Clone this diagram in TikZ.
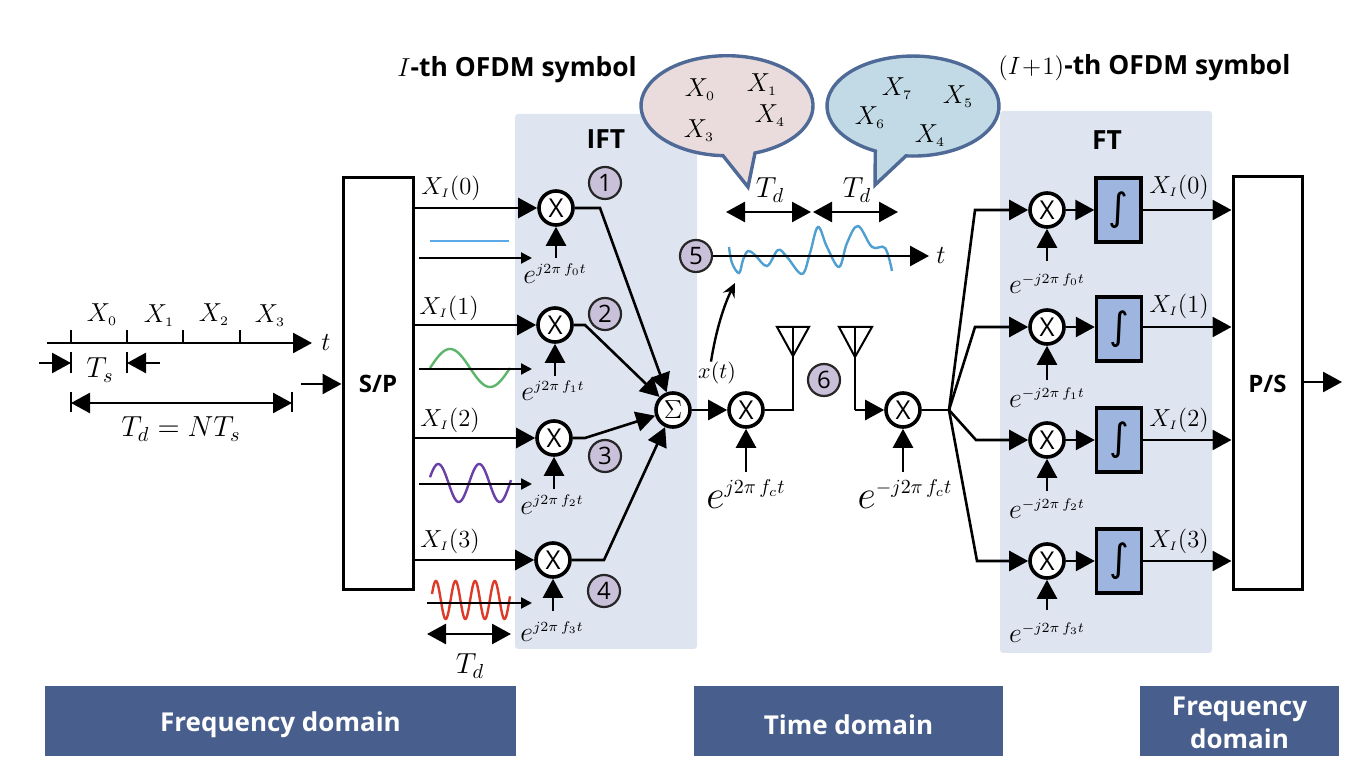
\RequirePackage{fix-cm}
\documentclass[tikz,border=0pt]{standalone}
\usepackage[no-math]{fontspec}
\setmainfont{Open Sans}
\newfontfamily\intfont{DejaVu Sans}
\usetikzlibrary{arrows.meta,calc}
\newcommand{\bigmath}[1]{\fontsize{14.5}{15}\selectfont$#1$}
\newcommand{\fsub}[2]{\hbox{\fontsize{#1}{#1}\selectfont$#2$}}
\newcommand{\lomath}[2]{\fontsize{14}{15}\selectfont$e^{\scriptscriptstyle #1 f_{\fsub{5}{#2}} t}$}
\newcommand{\himath}[1]{\fontsize{20}{21}\selectfont$e^{\scriptscriptstyle #1 f_{\fsub{7}{c}} t}$}
\newcommand{\xsym}[1]{$X_{\scriptscriptstyle #1}$}
\newcommand{\xarg}[1]{\fontsize{12.3}{13}\selectfont$X_{\scriptscriptstyle I}(#1)$}
\tikzset{
  x=0.5pt,y=-0.5pt,
  conn/.style={line width=1.3pt,-{Triangle[length=9.5pt,width=10pt]}},
  dconn/.style={line width=1.3pt,{Triangle[length=9.5pt,width=10pt]}-{Triangle[length=9.5pt,width=10pt]}},
  smallarrow/.style={line width=1.1pt,-{Triangle[length=5.5pt,width=5.5pt]}},
  plain/.style={line width=1.3pt},
  mixer/.style={circle,draw,fill=white,line width=1.8pt,minimum size=17pt,inner sep=0pt,font=\fontsize{13}{14}\selectfont},
  badge/.style={circle,draw=black!85,fill=badgefill,line width=1.1pt,minimum size=16pt,inner sep=0pt,font=\fontsize{12}{13}\selectfont},
  bigbox/.style={draw,fill=white,line width=1.5pt,inner sep=0pt,font=\bfseries\fontsize{12}{13}\selectfont},
  intbox/.style={draw,fill=intfill,line width=1.7pt,minimum width=22.5pt,minimum height=32pt,inner sep=0pt,font=\intfont\fontsize{19}{21}\selectfont},
  panel/.style={fill=panelfill,rounded corners=1.5pt},
  barlabel/.style={text=white,font=\bfseries\fontsize{13}{16.5}\selectfont,inner sep=0pt,align=center},
  head/.style={font=\bfseries\fontsize{13.2}{15}\selectfont,inner sep=0pt},
  bubble/.style={draw=bubbleline,line width=1.7pt,line join=miter},
  mlabel/.style={inner sep=0pt,font=\fontsize{13}{14}\selectfont},
  lolabel/.style={inner sep=0pt},
  wave/.style={line width=1.2pt},
}
\definecolor{panelfill}{HTML}{DFE5F0}
\definecolor{barfill}{HTML}{485E8C}
\definecolor{badgefill}{HTML}{C9C1D9}
\definecolor{intfill}{HTML}{9DB5DF}
\definecolor{bubbleline}{HTML}{4F6A96}
\definecolor{pinkfill}{HTML}{EADCDC}
\definecolor{bluefill}{HTML}{C1DAE5}
\definecolor{wblue}{HTML}{5BA9E8}
\definecolor{wgreen}{HTML}{5CB56A}
\definecolor{wpurple}{HTML}{6A3FA8}
\definecolor{wred}{HTML}{DE3A2A}
\definecolor{wtime}{HTML}{4F9FD0}
\begin{document}
\begin{tikzpicture}
\useasboundingbox (0,0) rectangle (1354,763);
% panels
\fill[panel] (515,114) rectangle (697,649);
\fill[panel] (1000,111) rectangle (1212,653);
% bottom bars
\fill[barfill] (45,686) rectangle (516,756);
\fill[barfill] (694,686) rectangle (1003,756);
\fill[barfill] (1140,686) rectangle (1339,756);
\node[barlabel] (fd1) at (280.5,724.5) {Frequency domain};
\node[barlabel] (td) at (848.5,724.5) {Time domain};
\node[barlabel] (fd2) at (1239.5,723) {Frequency\\domain};
% headings
\node[head,anchor=west] (h1) at (397,70) {\fontsize{13}{14}\selectfont$I$\bfseries\fontsize{13.2}{15}\selectfont-th OFDM symbol};
\node[head,anchor=west] (h2) at (998,68) {\fontsize{12.5}{14}\selectfont$(I\!+\!1)$\bfseries\fontsize{13.2}{15}\selectfont-th OFDM symbol};
\node[head] (ift) at (606,139) {IFT};
\node[head] (ft) at (1107,140) {FT};
% left timeline
\coordinate (ax0) at (47,343);
\coordinate (ax1) at (312,343);
\draw[conn] (ax0) -- (ax1);
\foreach \tx in {71,127,183,240} \draw[plain] (\tx,330) -- (\tx,343);
\node[mlabel] (x0) at (102,315) {\xsym{0}};
\node[mlabel] (x1) at (159,316) {\xsym{1}};
\node[mlabel] (x2) at (214,315) {\xsym{2}};
\node[mlabel] (x3) at (270,316) {\xsym{3}};
\node[mlabel] (taxis) at (326,343) {$t$};
\coordinate (ts0) at (39,363);
\coordinate (ts1) at (71,363);
\coordinate (ts2) at (160,363);
\coordinate (ts3) at (127,363);
\draw[plain] (71,352) -- (71,373);
\draw[plain] (127,352) -- (127,373);
\draw[conn] (ts0) -- (ts1);
\draw[conn] (ts2) -- (ts3);
\node[inner sep=0pt] (tslab) at (100,370) {\bigmath{T_s}};
\draw[plain] (71,392) -- (71,412);
\draw[plain] (292,392) -- (292,412);
\coordinate (td0) at (71,403);
\coordinate (td1) at (292,403);
\draw[dconn] (td0) -- (td1);
\node[inner sep=0pt] (tdeq) at (181,429) {\bigmath{T_d = NT_s}};
% S/P, P/S
\node[bigbox,minimum width=35pt,minimum height=206pt] (sp) at (378,384) {S/P};
\node[bigbox,minimum width=34.5pt,minimum height=206.5pt] (ps) at (1267.5,383.5) {P/S};
\coordinate (inS) at (301,384);
\draw[conn] (inS) -- (sp.west |- inS);
\coordinate (outP) at (1342,382);
\draw[conn] (ps.east |- outP) -- (outP);
% IFT mixers
\node[mixer] (m1) at (556,208) {X};
\node[mixer] (m2) at (555,325) {X};
\node[mixer] (m3) at (554,438) {X};
\node[mixer] (m4) at (553,560) {X};
\node[mixer] (sum) at (673,410) {$\Sigma$};
\foreach \m in {m1,m2,m3,m4} \draw[conn] (sp.east |- \m) -- (\m);
\node[mlabel] (l1) at (451,188) {\xarg{0}};
\node[mlabel] (l2) at (449,308) {\xarg{1}};
\node[mlabel] (l3) at (450,420) {\xarg{2}};
\node[mlabel] (l4) at (450,541) {\xarg{3}};
% IFT LO
\node[lolabel] (e0) at (555,274) {\lomath{j2\pi\,}{0}};
\node[lolabel] (e1) at (553,391) {\lomath{j2\pi\,}{1}};
\node[lolabel] (e2) at (552,505) {\lomath{j2\pi\,}{2}};
\node[lolabel] (e3) at (552,632) {\lomath{j2\pi\,}{3}};
\coordinate (lo0) at (556,258);
\coordinate (lo1) at (555,376);
\coordinate (lo2) at (554,489);
\coordinate (lo3) at (553,611);
\draw[conn] (lo0) -- (m1);
\draw[conn] (lo1) -- (m2);
\draw[conn] (lo2) -- (m3);
\draw[conn] (lo3) -- (m4);
% to sum
\coordinate (b1) at (600,208);
\coordinate (b2) at (585,325);
\coordinate (b3) at (585,438);
\coordinate (b4) at (604,560);
\draw[conn] (m1) -- (b1) -- (sum);
\draw[conn] (m2) -- (b2) -- (sum);
\draw[conn] (m3) -- (b3) -- (sum);
\draw[conn] (m4) -- (b4) -- (sum);
% badges
\node[badge] (n1) at (605,183) {1};
\node[badge] (n2) at (605,314) {2};
\node[badge] (n3) at (605,456) {3};
\node[badge] (n4) at (604,591) {4};
\node[badge] (n5) at (696,256) {5};
\node[badge] (n6) at (824,380) {6};
% carrier waves
\draw[wblue,wave] (430,241) -- (509,241);
\draw[wgreen,wave] plot[domain=430:510,samples=80] (\x,{368-19*sin(4.5*(\x-430))});
\draw[wpurple,wave] plot[domain=430:511,samples=100] (\x,{483-19*sin(8.78*(\x-428))});
\draw[wred,wave] plot[domain=432:510,samples=160] (\x,{600-19*sin(18.37*(\x-431))});
\coordinate (w0a) at (419,258); \coordinate (w0b) at (532,258);
\coordinate (w1a) at (419,369); \coordinate (w1b) at (532,369);
\coordinate (w2a) at (419,484); \coordinate (w2b) at (532,484);
\coordinate (w3a) at (427,603); \coordinate (w3b) at (532,603);
\draw[smallarrow] (w0a) -- (w0b);
\draw[smallarrow] (w1a) -- (w1b);
\draw[smallarrow] (w2a) -- (w2b);
\draw[smallarrow] (w3a) -- (w3b);
\coordinate (wd0) at (427,634); \coordinate (wd1) at (511,634);
\draw[dconn] (wd0) -- (wd1);
\node[inner sep=0pt] (wdl) at (470,666) {\bigmath{T_d}};
% bubbles
\draw[bubble,fill=pinkfill] (755,153) arc[start angle=71,end angle=-267.3,x radius=86,y radius=50] -- (748,187) -- cycle;
\draw[bubble,fill=bluefill] (875.3,151) arc[start angle=116,end angle=454.7,x radius=86,y radius=50] -- (875,185) -- cycle;
\node[mlabel] (b0) at (700,90) {\xsym{0}};
\node[mlabel] (b1l) at (762,85) {\xsym{1}};
\node[mlabel] (b4l) at (770,116) {\xsym{4}};
\node[mlabel] (b3l) at (699,131) {\xsym{3}};
\node[mlabel] (c7) at (897,89) {\xsym{7}};
\node[mlabel] (c5) at (958,97) {\xsym{5}};
\node[mlabel] (c6) at (870,118) {\xsym{6}};
\node[mlabel] (c4) at (930,136) {\xsym{4}};
% time axis
\coordinate (dA) at (726,212); \coordinate (dB) at (811,212);
\coordinate (dC) at (813,212); \coordinate (dD) at (898,212);
\draw[dconn] (dA) -- (dB);
\draw[dconn] (dC) -- (dD);
\node[inner sep=0pt] (tl1) at (770,190) {\bigmath{T_d}};
\node[inner sep=0pt] (tl2) at (857,190) {\bigmath{T_d}};
\draw[wtime,wave] plot[smooth,tension=0.6] coordinates {(729,247)(732,263)(739,273)(743,260)(748,251)(755,255)(767,266)(778,250)(787,257)(802,274)(810,253)(818,227)(827,247)(839,267)(847,243)(858,226)(872,247)(885,248)(892,271)};
\coordinate (tax1) at (929,256);
\draw[conn] (n5) -- (tax1);
\node[mlabel] (tt) at (941,256) {$t$};
% transmit
\node[mixer] (tx) at (746,410) {X};
\node[mixer] (rx) at (903,410) {X};
\draw[conn] (sum) -- (tx);
\node[inner sep=0pt,font=\fontsize{11}{12}\selectfont] (xt) at (717,373) {$x(t)$};
\coordinate (xa) at (735,283);
\draw[line width=1.2pt,-{Stealth[length=7pt,width=6.5pt,inset=2.5pt]}] (xt.north) ++(-6,0) .. controls (716,330) and (724,305) .. (xa);
\coordinate (txa) at (793,356);
\coordinate (rxa) at (855,357);
\draw[line width=1pt,line join=miter] (777,327) -- (809,327) -- (txa) -- cycle;
\draw[line width=1pt,line join=miter] (839,327) -- (872,327) -- (rxa) -- cycle;
\draw[line width=1pt] (793,327) -- (txa) -- (793,410) -- (tx);
\draw[line width=1pt] (855,327) -- (rxa);
\coordinate (rxc) at (855,410);
\draw[line width=1pt] (rxa) -- (rxc);
\draw[conn] (rxc) -- (rx);
\coordinate (lot) at (746,472);
\coordinate (lor) at (903,472);
\draw[conn] (lot) -- (tx);
\draw[conn] (lor) -- (rx);
\node[inner sep=0pt] (et) at (746,494) {\himath{j2\pi\,}};
\node[inner sep=0pt] (er) at (905,494) {\himath{-j2\pi\,}};
% FT
\node[mixer] (r1) at (1047,210) {X};
\node[mixer] (r2) at (1047,327) {X};
\node[mixer] (r3) at (1047,440) {X};
\node[mixer] (r4) at (1047,561) {X};
\node[intbox] (i1) at (1118.5,210) {∫};
\node[intbox] (i2) at (1119,329) {∫};
\node[intbox] (i3) at (1119,440) {∫};
\node[intbox] (i4) at (1119,561) {∫};
\coordinate (split) at (949,410);
\coordinate (s1) at (975,210);
\coordinate (s2) at (975,327);
\coordinate (s3) at (976,440);
\coordinate (s4) at (977,561);
\draw[plain] (rx) -- (split);
\draw[conn] (split) -- (s1) -- (r1);
\draw[conn] (split) -- (s2) -- (r2);
\draw[conn] (split) -- (s3) -- (r3);
\draw[conn] (split) -- (s4) -- (r4);
\draw[conn] (r1) -- (i1);
\draw[conn] (r2) -- (r2 -| i2.west);
\draw[conn] (r3) -- (i3);
\draw[conn] (r4) -- (i4);
\draw[conn] (i1) -- (i1 -| ps.west);
\draw[conn] (i2.east |- r2) -- (r2 -| ps.west);
\draw[conn] (i3) -- (i3 -| ps.west);
\draw[conn] (i4) -- (i4 -| ps.west);
\node[mlabel] (rl1) at (1179,187) {\xarg{0}};
\node[mlabel] (rl2) at (1179,306) {\xarg{1}};
\node[mlabel] (rl3) at (1179,420) {\xarg{2}};
\node[mlabel] (rl4) at (1179,541) {\xarg{3}};
\coordinate (rlo1) at (1047,261);
\coordinate (rlo2) at (1047,380);
\coordinate (rlo3) at (1047,491);
\coordinate (rlo4) at (1047,610);
\draw[conn] (rlo1) -- (r1);
\draw[conn] (rlo2) -- (r2);
\draw[conn] (rlo3) -- (r3);
\draw[conn] (rlo4) -- (r4);
\node[lolabel] (g0) at (1047,284) {\lomath{-j2\pi\,}{0}};
\node[lolabel] (g1) at (1047,398) {\lomath{-j2\pi\,}{1}};
\node[lolabel] (g2) at (1047,509) {\lomath{-j2\pi\,}{2}};
\node[lolabel] (g3) at (1047,633) {\lomath{-j2\pi\,}{3}};
\end{tikzpicture}
\end{document}
